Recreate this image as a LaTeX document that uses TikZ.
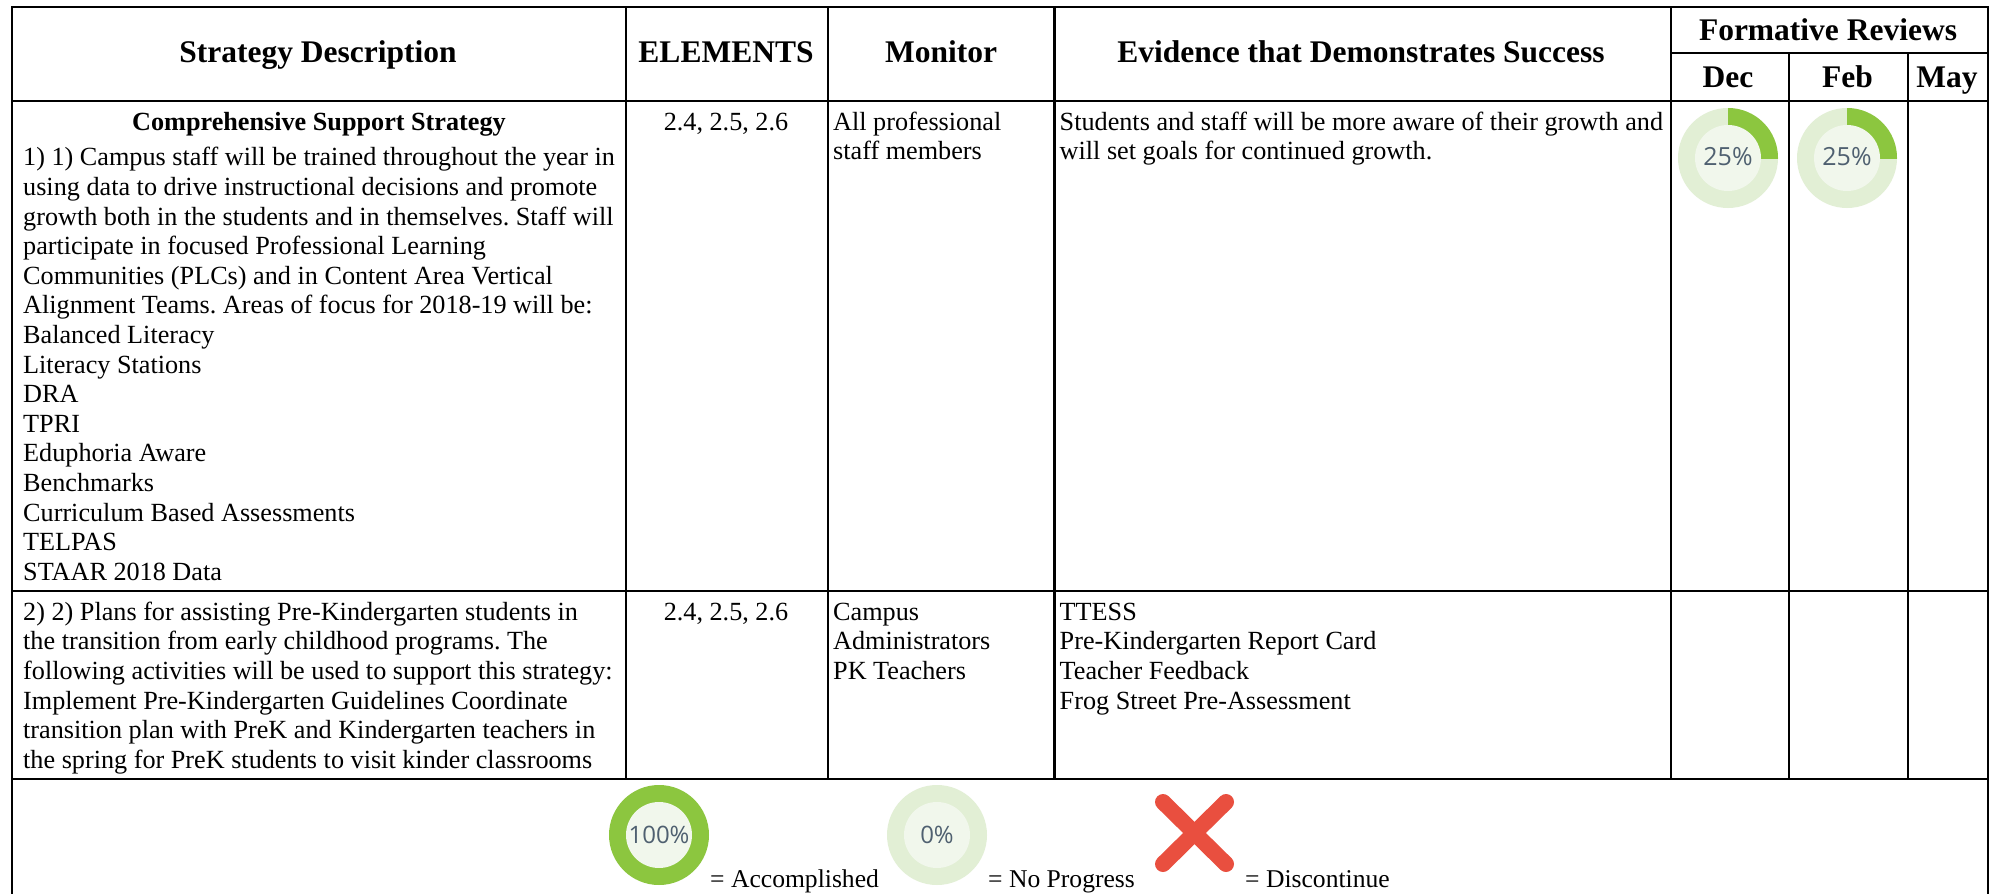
\documentclass[tikz,border=0pt]{standalone}
\usepackage{fontspec}
\setmainfont{Liberation Serif}
\newfontfamily\pctfont{Open Sans}
\definecolor{ringlight}{HTML}{E2EFD5}
\definecolor{ringinner}{HTML}{F1F7EC}
\definecolor{ringgreen}{HTML}{8CC63F}
\definecolor{pcttext}{HTML}{4F6070}
\definecolor{crossred}{HTML}{E94F3F}
\newcommand{\bodyfs}{\fontsize{26.2pt}{29.6pt}\selectfont\frenchspacing}
\newcommand{\fl}{\rule{0pt}{22pt}}
\tikzset{
  rule/.style={line width=2.5pt,black,line cap=rect},
  head/.style={font=\fontsize{31.5pt}{34pt}\selectfont\bfseries,anchor=base,inner sep=0pt},
  body/.style={font=\bodyfs,align=left,anchor=north west,inner sep=0pt},
  centered/.style={font=\bodyfs,anchor=base,inner sep=0pt},
  pct/.style={font=\fontsize{24pt}{26pt}\selectfont\pctfont,text=pcttext,inner sep=0pt},
  dialpct/.style={pct,font=\fontsize{25pt}{27pt}\selectfont\pctfont},
  legend/.style={font=\fontsize{25.6pt}{29pt}\selectfont,anchor=base west,inner sep=0pt}
}
\begin{document}
\begin{tikzpicture}[x=1pt,y=-1pt]
\useasboundingbox[fill=white] (0,0) rectangle (1997,894);
% rules
\foreach \xx in {12,1988} \draw[rule] (\xx,7) -- (\xx,894);
\foreach \xx in {626,828,1054.5,1671} \draw[rule] (\xx,7) -- (\xx,779);
\foreach \xx in {1789,1908} \draw[rule] (\xx,53) -- (\xx,779);
\draw[rule] (12,7) -- (1988,7);
\draw[rule] (1671,53) -- (1988,53);
\draw[rule] (12,101) -- (1988,101);
\draw[rule] (12,591) -- (1988,591);
\draw[rule] (12,779) -- (1988,779);
% headers
\node[head] (h1) at (318,62) {Strategy Description};
\node[head] (h2) at (726,62) {ELEMENTS};
\node[head] (h3) at (941,62) {Monitor};
\node[head] (h4) at (1361,62) {Evidence that Demonstrates Success};
\node[head] (h5) at (1828,40) {Formative Reviews};
\node[head] (h6) at (1728,87) {Dec};
\node[head] (h7) at (1847.5,87) {Feb};
\node[head] (h8) at (1947,87) {May};
% row 1
\node[font=\fontsize{26.2pt}{29.7pt}\selectfont\bfseries,anchor=base,inner sep=0pt] (t1) at (319,130) {Comprehensive Support Strategy};
\node[body] (c1) at (23,143.7) {\fl 1) 1) Campus staff will be trained throughout the year in\\
using data to drive instructional decisions and promote\\
growth both in the students and in themselves. Staff will\\
participate in focused Professional Learning\\
Communities (PLCs) and in Content Area Vertical\\
Alignment Teams. Areas of focus for 2018-19 will be:\\
Balanced Literacy\\
Literacy Stations\\
DRA\\
TPRI\\
Eduphoria Aware\\
Benchmarks\\
Curriculum Based Assessments\\
TELPAS\\
STAAR 2018 Data};
\node[centered] (e1) at (726,130) {2.4, 2.5, 2.6};
\node[body] (m1) at (833,108) {\fl All professional\\staff members};
\node[body] (v1) at (1059.5,108) {\fl Students and staff will be more aware of their growth and\\will set goals for continued growth.};
% row 2
\node[body] (c2) at (23,598) {\fl 2) 2) Plans for assisting Pre-Kindergarten students in\\
the transition from early childhood programs. The\\
following activities will be used to support this strategy:\\
Implement Pre-Kindergarten Guidelines Coordinate\\
transition plan with PreK and Kindergarten teachers in\\
the spring for PreK students to visit kinder classrooms};
\node[centered] (e2) at (726,620.5) {2.4, 2.5, 2.6};
\node[body] (m2) at (833,598) {\fl Campus\\Administrators\\PK Teachers};
\node[body] (v2) at (1059.5,598) {\fl TTESS\\Pre-Kindergarten Report Card\\Teacher Feedback\\Frog Street Pre-Assessment};
% 25% dials
\foreach \cx/\nm in {1728/a,1847/b}{
  \fill[ringlight] (\cx,158) circle[radius=50];
  \begin{scope}
    \clip (\cx,106) rectangle (\cx+52,158);
    \fill[ringgreen] (\cx,158) circle[radius=50];
  \end{scope}
  \fill[ringinner] (\cx,158) circle[radius=33];
  \node[dialpct] (d\nm) at (\cx,157) {25\%};
}
% legend
\fill[ringgreen] (659,835) circle[radius=50];
\fill[ringinner] (659,835) circle[radius=33];
\node[pct] (l1) at (659,835) {100\%};
\fill[ringlight] (937,835) circle[radius=50];
\fill[ringinner] (937,835) circle[radius=33];
\node[pct] (l2) at (937,835) {0\%};
\draw[crossred,line width=16pt,line cap=round] (1163,802) -- (1226,864);
\draw[crossred,line width=16pt,line cap=round] (1226,802) -- (1163,864);
\node[legend] (a1) at (710,887) {= Accomplished};
\node[legend] (a2) at (988,887) {= No Progress};
\node[legend] (a3) at (1245,887) {= Discontinue};
\end{tikzpicture}
\end{document}
